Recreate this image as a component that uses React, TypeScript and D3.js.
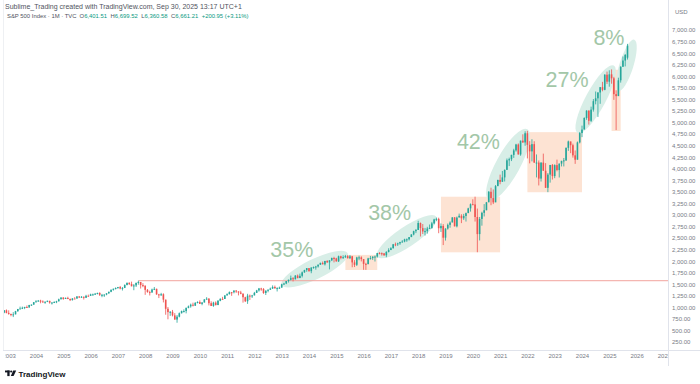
import React, { useEffect, useRef } from "react";
import * as d3 from "d3";

// monthly S&P 500 candles, Nov 2002 .. Sep 2025
const firstMonth = "2002-11";
const openBeforeFirst = 885.76;
const lastOpen = 6401.51;

const closes = [
  936.31, 879.82,
  855.7, 841.15, 848.18, 916.92, 963.59, 974.5, 990.31, 1008.01, 995.97, 1050.71, 1058.2, 1111.92,
  1131.13, 1144.94, 1126.21, 1107.3, 1120.68, 1140.84, 1101.72, 1104.24, 1114.58, 1130.2, 1173.82, 1211.92,
  1181.27, 1203.6, 1180.59, 1156.85, 1191.5, 1191.33, 1234.18, 1220.33, 1228.81, 1207.01, 1249.48, 1248.29,
  1280.08, 1280.66, 1294.83, 1310.61, 1270.09, 1270.2, 1276.66, 1303.82, 1335.85, 1377.94, 1400.63, 1418.3,
  1438.24, 1406.82, 1420.86, 1482.37, 1530.62, 1503.35, 1455.27, 1473.99, 1526.75, 1549.38, 1481.14, 1468.36,
  1378.55, 1330.63, 1322.7, 1385.59, 1400.38, 1280.0, 1267.38, 1282.83, 1166.36, 968.75, 896.24, 903.25,
  825.88, 735.09, 797.87, 872.81, 919.14, 919.32, 987.48, 1020.62, 1057.08, 1036.19, 1095.63, 1115.1,
  1073.87, 1104.49, 1169.43, 1186.69, 1089.41, 1030.71, 1101.6, 1049.33, 1141.2, 1183.26, 1180.55, 1257.64,
  1286.12, 1327.22, 1325.83, 1363.61, 1345.2, 1320.64, 1292.28, 1218.89, 1131.42, 1253.3, 1246.96, 1257.6,
  1312.41, 1365.68, 1408.47, 1397.91, 1310.33, 1362.16, 1379.32, 1406.58, 1440.67, 1412.16, 1416.18, 1426.19,
  1498.11, 1514.68, 1569.19, 1597.57, 1630.74, 1606.28, 1685.73, 1632.97, 1681.55, 1756.54, 1805.81, 1848.36,
  1782.59, 1859.45, 1872.34, 1883.95, 1923.57, 1960.23, 1930.67, 2003.37, 1972.29, 2018.05, 2067.56, 2058.9,
  1994.99, 2104.5, 2067.89, 2085.51, 2107.39, 2063.11, 2103.84, 1972.18, 1920.03, 2079.36, 2080.41, 2043.94,
  1940.24, 1932.23, 2059.74, 2065.3, 2096.95, 2098.86, 2173.6, 2170.95, 2168.27, 2126.15, 2198.81, 2238.83,
  2278.87, 2363.64, 2362.72, 2384.2, 2411.8, 2423.41, 2470.3, 2471.65, 2519.36, 2575.26, 2647.58, 2673.61,
  2823.81, 2713.83, 2640.87, 2648.05, 2705.27, 2718.37, 2816.29, 2901.52, 2913.98, 2711.74, 2760.17, 2506.85,
  2704.1, 2784.49, 2834.4, 2945.83, 2752.06, 2941.76, 2980.38, 2926.46, 2976.74, 3037.56, 3140.98, 3230.78,
  3225.52, 2954.22, 2584.59, 2912.43, 3044.31, 3100.29, 3271.12, 3500.31, 3363.0, 3269.96, 3621.63, 3756.07,
  3714.24, 3811.15, 3972.89, 4181.17, 4204.11, 4297.5, 4395.26, 4522.68, 4307.54, 4605.38, 4567.0, 4766.18,
  4515.55, 4373.94, 4530.41, 4131.93, 4132.15, 3785.38, 4130.29, 3955.0, 3585.62, 3871.98, 4080.11, 3839.5,
  4076.6, 3970.15, 4109.31, 4169.48, 4179.83, 4450.38, 4588.96, 4507.66, 4288.05, 4193.8, 4567.8, 4769.83,
  4845.65, 5096.27, 5254.35, 5035.69, 5277.51, 5460.48, 5522.3, 5648.4, 5762.48, 5705.45, 6032.38, 5881.63,
  6040.53, 5954.5, 5611.85, 5569.06, 5911.69, 6204.95, 6339.39, 6460.26, 6661.21,
];

const highs = [
  941.82, 954.28,
  935.05, 864.64, 895.9, 924.24, 965.38, 1015.33, 1015.41, 1011.01, 1040.29, 1053.79, 1063.65, 1112.56,
  1155.38, 1158.98, 1163.23, 1150.57, 1127.74, 1146.34, 1140.84, 1109.68, 1131.54, 1142.05, 1188.46, 1217.33,
  1217.8, 1212.44, 1229.11, 1191.88, 1199.56, 1219.59, 1245.15, 1245.86, 1243.13, 1233.34, 1270.64, 1275.8,
  1294.9, 1297.57, 1310.88, 1318.16, 1326.7, 1290.68, 1280.42, 1306.74, 1340.28, 1389.45, 1407.89, 1431.81,
  1441.61, 1461.57, 1438.89, 1498.02, 1535.56, 1540.56, 1555.9, 1503.89, 1538.74, 1576.09, 1545.79, 1523.57,
  1471.77, 1396.02, 1359.68, 1404.57, 1440.24, 1404.05, 1292.17, 1313.15, 1303.04, 1167.03, 1007.51, 918.85,
  943.85, 875.01, 832.98, 888.7, 930.17, 956.23, 996.68, 1039.47, 1080.15, 1101.36, 1113.69, 1130.38,
  1150.45, 1112.42, 1180.16, 1219.8, 1200.26, 1131.23, 1120.95, 1129.24, 1157.16, 1196.14, 1227.08, 1262.6,
  1302.67, 1344.07, 1332.28, 1366.5, 1370.58, 1345.2, 1356.48, 1307.38, 1229.29, 1292.66, 1277.55, 1269.37,
  1333.47, 1378.04, 1419.15, 1422.38, 1415.32, 1363.46, 1391.74, 1426.68, 1474.51, 1470.96, 1434.27, 1448.0,
  1509.94, 1530.94, 1570.28, 1597.57, 1687.18, 1654.19, 1698.78, 1709.67, 1729.86, 1775.22, 1813.55, 1849.44,
  1850.84, 1867.92, 1883.97, 1897.28, 1924.03, 1968.17, 1991.39, 2005.04, 2019.26, 2018.19, 2075.76, 2093.55,
  2072.36, 2119.59, 2117.52, 2125.92, 2134.72, 2129.87, 2132.82, 2112.66, 2020.86, 2094.32, 2116.48, 2104.27,
  2038.2, 1962.96, 2072.21, 2111.05, 2103.48, 2120.55, 2177.09, 2193.81, 2187.87, 2169.6, 2214.1, 2277.53,
  2300.99, 2371.54, 2400.98, 2398.16, 2418.71, 2453.82, 2484.04, 2490.87, 2519.44, 2582.98, 2657.74, 2694.97,
  2872.87, 2835.96, 2801.9, 2717.49, 2742.24, 2791.47, 2848.03, 2916.5, 2940.91, 2939.86, 2815.15, 2800.18,
  2708.95, 2813.49, 2860.31, 2949.52, 2954.13, 2964.15, 3027.98, 3013.59, 3021.99, 3050.1, 3154.26, 3247.93,
  3337.77, 3393.52, 3136.72, 2954.86, 3068.67, 3233.13, 3279.99, 3514.77, 3588.11, 3549.85, 3645.99, 3760.2,
  3870.9, 3950.43, 3983.87, 4218.78, 4238.04, 4302.43, 4429.97, 4537.36, 4545.85, 4608.08, 4743.83, 4808.93,
  4818.62, 4595.31, 4637.3, 4593.45, 4307.66, 4177.51, 4140.15, 4325.28, 4119.28, 3905.42, 4080.11, 4100.96,
  4094.21, 4195.44, 4110.75, 4170.06, 4231.1, 4458.48, 4607.07, 4584.62, 4541.25, 4393.57, 4587.64, 4793.3,
  4931.09, 5111.06, 5264.85, 5263.95, 5341.88, 5505.53, 5669.67, 5651.62, 5767.37, 5878.46, 6044.17, 6099.97,
  6128.18, 6147.43, 5986.09, 5695.31, 5968.61, 6215.08, 6427.02, 6481.34, 6699.52,
];

const lows = [
  872.05, 869.45,
  840.34, 806.29, 788.9, 847.85, 902.83, 963.42, 962.1, 960.84, 990.36, 995.97, 1031.2, 1055.7,
  1105.08, 1124.44, 1087.16, 1107.23, 1076.32, 1113.32, 1078.78, 1060.72, 1101.29, 1090.19, 1127.6, 1173.76,
  1163.75, 1180.95, 1176.92, 1136.15, 1146.18, 1188.3, 1183.55, 1201.07, 1205.35, 1168.2, 1201.07, 1246.59,
  1245.74, 1253.61, 1268.42, 1280.74, 1245.34, 1219.29, 1224.54, 1261.3, 1290.93, 1327.1, 1360.98, 1385.93,
  1403.97, 1389.42, 1363.98, 1416.37, 1476.7, 1484.18, 1454.25, 1370.6, 1439.29, 1489.56, 1406.1, 1435.65,
  1270.05, 1316.75, 1256.98, 1312.89, 1373.07, 1272.0, 1200.44, 1247.45, 1106.42, 839.8, 741.02, 815.69,
  804.3, 734.52, 666.79, 783.32, 866.1, 888.86, 869.32, 978.51, 991.97, 1019.95, 1029.38, 1085.89,
  1071.59, 1044.5, 1105.36, 1170.69, 1040.78, 1028.33, 1010.91, 1039.7, 1047.67, 1131.87, 1173.0, 1186.6,
  1256.32, 1276.76, 1249.05, 1302.02, 1311.8, 1258.07, 1282.86, 1101.54, 1114.22, 1074.77, 1158.66, 1202.37,
  1258.86, 1312.41, 1340.03, 1357.38, 1291.98, 1266.74, 1325.41, 1378.45, 1396.56, 1403.28, 1343.35, 1398.11,
  1426.19, 1485.01, 1501.48, 1536.03, 1581.28, 1560.33, 1604.57, 1627.47, 1633.41, 1646.47, 1746.2, 1767.99,
  1770.45, 1737.92, 1834.44, 1814.36, 1859.79, 1915.98, 1930.67, 1904.78, 1964.04, 1820.66, 2001.01, 1972.56,
  1988.12, 1980.9, 2039.69, 2048.38, 2067.93, 2056.32, 2044.02, 1867.01, 1871.91, 1893.7, 2019.39, 1993.26,
  1812.29, 1810.1, 1937.09, 2033.8, 2025.91, 1991.68, 2074.02, 2147.58, 2119.12, 2114.72, 2083.79, 2187.44,
  2245.13, 2271.65, 2322.25, 2328.95, 2352.72, 2405.7, 2407.7, 2417.35, 2446.55, 2520.4, 2557.45, 2605.52,
  2682.36, 2532.69, 2585.89, 2553.8, 2594.62, 2698.67, 2698.95, 2796.34, 2864.12, 2603.54, 2631.09, 2346.58,
  2443.96, 2681.83, 2722.27, 2848.63, 2750.52, 2728.81, 2952.22, 2822.12, 2891.85, 2855.94, 3050.72, 3070.33,
  3214.64, 2855.84, 2191.86, 2447.49, 2766.64, 2965.66, 3101.17, 3284.53, 3209.45, 3233.94, 3279.74, 3633.4,
  3662.71, 3725.62, 3723.34, 3981.83, 4056.88, 4164.4, 4233.13, 4367.73, 4305.91, 4278.94, 4560.0, 4495.12,
  4222.62, 4114.65, 4157.87, 4124.28, 3810.32, 3636.87, 3721.56, 3954.53, 3584.13, 3491.58, 3698.15, 3764.49,
  3794.33, 3943.08, 3808.86, 4048.28, 4048.28, 4166.15, 4385.05, 4335.31, 4238.63, 4103.78, 4197.74, 4546.5,
  4682.11, 4853.52, 5056.82, 4953.56, 5011.05, 5234.32, 5390.95, 5119.26, 5402.62, 5674.0, 5696.51, 5832.3,
  5773.31, 5837.66, 5488.73, 4835.04, 5578.64, 5861.43, 6201.51, 6212.69, 6360.58,
];

const yearTicks = d3.range(2003, 2028);
const priceTicks = d3.range(250, 7001, 250);

// drawings on the chart, anchored in month / price
const trendZones = [
  { label: "35%", from: ["2013-01", 1483], to: ["2015-06", 2170], ry: 10, labelAt: ["2012-08", 2095] },
  { label: "38%", from: ["2016-07", 2095], to: ["2018-09", 2961], ry: 10, labelAt: ["2016-03", 2889] },
  { label: "42%", from: ["2020-08", 3322], to: ["2022-01", 4852], ry: 12, labelAt: ["2019-06", 4425] },
  { label: "27%", from: ["2023-11", 4772], to: ["2025-03", 6230], ry: 10, labelAt: ["2022-09", 5767] },
  { label: "8%", from: ["2025-05", 5680], to: ["2025-12", 6790], ry: 7, labelAt: ["2024-06", 6675] },
];

const pullbackBoxes = [
  { from: "2015-05", to: "2016-07", low: 1808, high: 2135 },
  { from: "2018-11", to: "2021-01", low: 2190, high: 3393 },
  { from: "2022-01", to: "2024-01", low: 3490, high: 4790 },
  { from: "2025-02", to: "2025-06", low: 4815, high: 6140 },
];

const resistance = { from: "2007-10", price: 1576.09 };

const monthIndex = (s: string) => {
  const [y, m] = s.split("-").map(Number);
  const [y0, m0] = firstMonth.split("-").map(Number);
  return (y - y0) * 12 + (m - m0);
};

const App: React.FC = () => {
  const svgRef = useRef<SVGSVGElement>(null);
  const width = 700;
  const height = 384;

  useEffect(() => {
    if (!svgRef.current) return;
    const svg = d3.select(svgRef.current);
    svg.selectAll("*").remove();

    const plotLeft = 3;
    const plotRight = 668;
    const plotBottom = 350;
    const up = "#26a69a";
    const down = "#ef5350";
    const font = "'Liberation Sans', Arial, sans-serif";

    const x = d3
      .scaleLinear()
      .domain([monthIndex("2004-01"), monthIndex("2026-01")])
      .range([36, 36 + 264 * 2.275]);
    const y = d3.scaleLinear().domain([250, 7000]).range([342, 30]);

    const candles = closes.map((c, i) => ({
      i,
      o: i === 0 ? openBeforeFirst : i === closes.length - 1 ? lastOpen : closes[i - 1],
      h: highs[i],
      l: lows[i],
      c,
    }));

    const defs = svg.append("defs");
    defs
      .append("clipPath")
      .attr("id", "plot-clip")
      .append("rect")
      .attr("x", plotLeft)
      .attr("y", 0)
      .attr("width", plotRight - plotLeft)
      .attr("height", plotBottom);

    svg.append("rect").attr("width", width).attr("height", height).attr("fill", "#fff");

    const plot = svg.append("g").attr("clip-path", "url(#plot-clip)");

    // pullback boxes
    plot
      .selectAll(".box")
      .data(pullbackBoxes)
      .enter()
      .append("rect")
      .attr("x", (d) => x(monthIndex(d.from)))
      .attr("y", (d) => y(d.high))
      .attr("width", (d) => x(monthIndex(d.to)) - x(monthIndex(d.from)))
      .attr("height", (d) => y(d.low) - y(d.high))
      .attr("fill", "#fde3d3");

    // trend ellipses
    plot
      .selectAll(".zone")
      .data(trendZones)
      .enter()
      .append("ellipse")
      .each(function (d) {
        const x1 = x(monthIndex(d.from[0] as string));
        const y1 = y(d.from[1] as number);
        const x2 = x(monthIndex(d.to[0] as string));
        const y2 = y(d.to[1] as number);
        const cx = (x1 + x2) / 2;
        const cy = (y1 + y2) / 2;
        const rx = Math.hypot(x2 - x1, y2 - y1) / 2;
        const angle = (Math.atan2(y2 - y1, x2 - x1) * 180) / Math.PI;
        d3.select(this)
          .attr("cx", cx)
          .attr("cy", cy)
          .attr("rx", rx)
          .attr("ry", d.ry)
          .attr("transform", `rotate(${angle},${cx},${cy})`);
      })
      .attr("fill", "#d8eee7");

    // 2007 high
    plot
      .append("line")
      .attr("x1", x(monthIndex(resistance.from)))
      .attr("x2", plotRight)
      .attr("y1", y(resistance.price))
      .attr("y2", y(resistance.price))
      .attr("stroke", "#f2a49d")
      .attr("stroke-width", 1);

    // candles
    const candle = plot.selectAll(".candle").data(candles).enter().append("g");
    candle
      .append("line")
      .attr("x1", (d) => x(d.i))
      .attr("x2", (d) => x(d.i))
      .attr("y1", (d) => y(d.h))
      .attr("y2", (d) => y(d.l))
      .attr("stroke", (d) => (d.c >= d.o ? up : down))
      .attr("stroke-width", 0.8);
    candle
      .append("rect")
      .attr("x", (d) => x(d.i) - 0.8)
      .attr("width", 1.6)
      .attr("y", (d) => y(Math.max(d.o, d.c)))
      .attr("height", (d) => Math.max(1, Math.abs(y(d.o) - y(d.c))))
      .attr("fill", (d) => (d.c >= d.o ? up : down));

    // percentage labels
    plot
      .selectAll(".pct")
      .data(trendZones)
      .enter()
      .append("text")
      .attr("x", (d) => x(monthIndex(d.labelAt[0] as string)))
      .attr("y", (d) => y(d.labelAt[1] as number))
      .attr("font-family", font)
      .attr("font-size", 21.5)
      .attr("fill", "#a3c7a8")
      .text((d) => d.label);

    // frame lines
    const frame = "#e0e3eb";
    svg.append("line").attr("x1", plotLeft + 0.5).attr("x2", plotLeft + 0.5).attr("y1", 0).attr("y2", plotBottom).attr("stroke", "#eef0f3");
    svg.append("line").attr("x1", plotLeft).attr("x2", width).attr("y1", plotBottom + 0.5).attr("y2", plotBottom + 0.5).attr("stroke", frame);
    svg.append("line").attr("x1", plotRight + 0.5).attr("x2", plotRight + 0.5).attr("y1", 0).attr("y2", 366).attr("stroke", frame);

    // price axis
    const yAxis = svg
      .append("g")
      .attr("transform", `translate(${plotRight},0)`)
      .call(
        d3
          .axisRight(y)
          .tickValues(priceTicks)
          .tickSize(0)
          .tickPadding(4)
          .tickFormat((v) => d3.format(",.2f")(v as number))
      );
    yAxis.select(".domain").remove();
    yAxis.selectAll("text").attr("font-family", font).attr("font-size", 6).attr("fill", "#787b86");

    svg
      .append("text")
      .attr("x", 675)
      .attr("y", 14)
      .attr("font-family", font)
      .attr("font-size", 6)
      .attr("fill", "#787b86")
      .text("USD");

    // time axis
    defs
      .append("clipPath")
      .attr("id", "time-clip")
      .append("rect")
      .attr("x", 5.5)
      .attr("y", plotBottom)
      .attr("width", plotRight - 5.5)
      .attr("height", 20);
    const xAxis = svg
      .append("g")
      .attr("clip-path", "url(#time-clip)")
      .append("g")
      .attr("transform", `translate(0,${plotBottom})`)
      .call(
        d3
          .axisBottom(x)
          .tickValues(yearTicks.map((yr) => monthIndex(`${yr}-01`)))
          .tickSize(0)
          .tickPadding(3.5)
          .tickFormat((_, k) => String(yearTicks[k]))
      );
    xAxis.select(".domain").remove();
    xAxis.selectAll("text").attr("font-family", font).attr("font-size", 6).attr("fill", "#787b86");

    // header
    svg
      .append("text")
      .attr("x", 5)
      .attr("y", 8.5)
      .attr("font-family", font)
      .attr("font-size", 7)
      .attr("fill", "#50535e")
      .text("Sublime_Trading created with TradingView.com, Sep 30, 2025 13:17 UTC+1");

    const last = candles[candles.length - 1];
    const prev = closes[closes.length - 2];
    const f2 = d3.format(",.2f");
    const legend = svg
      .append("text")
      .attr("x", 7)
      .attr("y", 17.5)
      .attr("font-family", font)
      .attr("font-size", 5.9)
      .attr("fill", "#50535e");
    legend.append("tspan").text("S&P 500 Index · 1M · TVC");
    const parts: [string, string][] = [
      ["O", f2(last.o)],
      ["H", f2(last.h)],
      ["L", f2(last.l)],
      ["C", f2(last.c)],
    ];
    parts.forEach(([k, v], n) => {
      legend.append("tspan").attr("dx", n === 0 ? 3 : 3.5).attr("fill", "#50535e").text(k);
      legend.append("tspan").attr("fill", "#089981").text(v);
    });
    legend
      .append("tspan")
      .attr("dx", 3.5)
      .attr("fill", "#089981")
      .text(`+${f2(last.c - prev)} (+${d3.format(".2f")(((last.c - prev) / prev) * 100)}%)`);

    // TradingView mark
    const logo = svg.append("g").attr("fill", "#131722");
    logo.append("rect").attr("x", 5).attr("y", 370.5).attr("width", 4.6).attr("height", 1.9);
    logo.append("rect").attr("x", 7.3).attr("y", 370.5).attr("width", 2.3).attr("height", 5.6);
    logo.append("circle").attr("cx", 11.2).attr("cy", 371.5).attr("r", 1.1);
    logo.append("path").attr("d", "M13.2,370.5 L16.2,370.5 L13.6,376.1 L10.8,376.1 Z");
    svg
      .append("text")
      .attr("x", 18.5)
      .attr("y", 376.5)
      .attr("font-family", font)
      .attr("font-size", 8)
      .attr("font-weight", 700)
      .attr("fill", "#131722")
      .text("TradingView");
  }, []);

  return (
    <svg
      ref={svgRef}
      width={width}
      height={height}
      viewBox={`0 0 ${width} ${height}`}
      style={{ position: "absolute", left: 0, top: 0, background: "#fff" }}
    />
  );
};

export default App;
